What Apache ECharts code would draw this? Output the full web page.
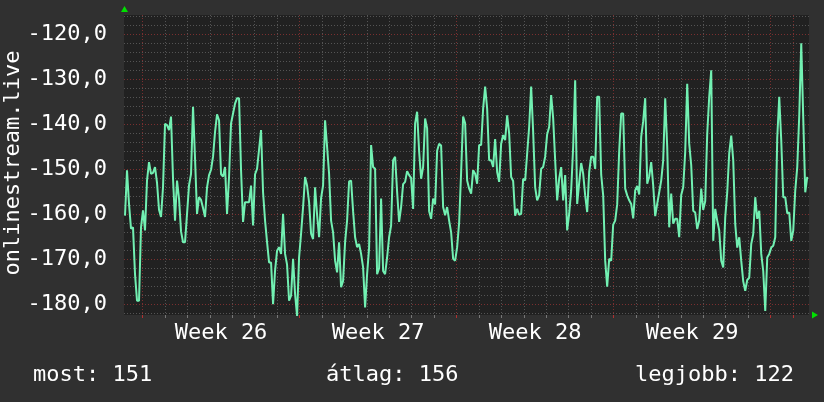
<!DOCTYPE html>
<html>
<head>
<meta charset="utf-8">
<script src="https://cdn.jsdelivr.net/npm/echarts@6/dist/echarts.min.js"></script>
<style>
  html, body { margin: 0; padding: 0; background: #303030; }
  #chart { width: 824px; height: 402px; }
</style>
</head>
<body>
<div id="chart"></div>
<script>
// jelszint (dBm), kb. 2 orankent, a 26. het elott kezdve
var startDay = -0.78;   // napokban a 26. het hetfojehez kepest
var stepDay = 0.0892;
var signal = [
  -160.3, -150.2, -157.7, -163.2, -162.9, -173.3, -179.2, -179.2, -162.9, -159.1, -163.6, -152.5, -148.4, -151, -150.8, -149.5,
  -153, -159, -160.6, -154, -139.9, -140.2, -141.3, -138.3, -152.1, -161.4, -152.5, -156.5, -163.8, -166.2, -166.2, -159.9,
  -153.6, -151, -136.1, -147.6, -159.9, -156.2, -156.8, -158.6, -160.6, -154, -151.3, -150.1, -147.2, -141.7, -137.8, -139.1,
  -151.1, -151.6, -149.5, -159.9, -151.7, -139.8, -137.6, -135.4,
  -134.2, -134.2, -150.2, -161.7, -157.3, -157.3, -157.3, -153.6, -162.5, -151.1, -149.9, -145.6, -141.3, -155.1, -161.4, -166.2,
  -170.7, -170.7, -180, -172.5, -168.1, -167.3, -168.8, -159.9, -168.8, -171.2, -179.2, -178.1, -169.9, -177.7, -182.6, -169.6,
  -164.3, -158.4, -151.7, -153.6, -157.3, -164.3, -165.5, -154, -160.1, -165.1, -156.4, -153.6, -139.1, -145, -151, -161.4,
  -164, -170.3, -172.9, -166.2, -176.2, -174.8, -166.2, -161.4,
  -152.7, -152.5, -159.3, -165.1, -167.3, -166.6, -168.8, -171.8, -180.7, -173.3, -167.5, -144.6, -149.5, -149.9, -173.3, -172,
  -156.5, -172.6, -173.3, -169.6, -165.1, -162.5, -148, -147.2, -155, -161.7, -158.4, -153.3, -152.8, -150.4, -151.3, -151.9,
  -158.8, -139.8, -137.2, -146, -152.1, -149.5, -138.7, -140.9, -159.3, -161, -156.5, -157.8, -145.9, -144.3, -144.7, -158.4,
  -160.2, -158.4, -161.4, -164, -169.9, -170.3, -167.3, -161.9, -150.6,
  -138.3, -139.8, -152.5, -154.3, -155.4, -150.2, -151, -153.2, -144.6, -144.6, -136.5, -131.6, -136.5, -148, -148, -149.5,
  -143.3, -150.6, -152.8, -144.3, -142.4, -143.5, -138, -142, -151.7, -152.6, -160.3, -158.8, -160.1, -159.9, -152.1, -152.5,
  -146.5, -140.6, -131.6, -141.7, -154, -156.9, -155.8, -149.9, -149.5, -147.2, -142.2, -140.6, -133.5, -138.7, -148, -156.9,
  -152.1, -149.5, -156.9, -151.3, -163.6, -159.9, -154.7, -145,
  -130.2, -157.7, -153, -148.6, -151, -155.8, -159.5, -150.6, -147.2, -147.2, -149.9, -133.9, -133.9, -151.2, -155.8, -170.3,
  -176.1, -169.9, -170.3, -162.3, -161.4, -157.8, -146, -137.6, -137.6, -154.3, -155.8, -156.9, -157.7, -160.9, -154.7, -153.7,
  -155.6, -142.8, -139.3, -134.2, -153.2, -151.6, -148.4, -153.6, -160.4, -157.7, -155.1, -152.5, -148, -134.2, -145, -162.9,
  -155.4, -162.1, -161, -161, -165.1, -155.7, -154, -146.1, -131,
  -144.3, -149.1, -159.2, -159.6, -163.3, -161.4, -154.3, -159, -157.1, -142.1, -133.9, -128, -165.9, -158.8, -161.4, -163.6,
  -170.3, -171.8, -160.7, -155.1, -146.4, -142.5, -148, -162.2, -167.4, -165.1, -170.3, -174.9, -177, -174.6, -174.1, -166.6,
  -164.4, -156.2, -161, -159.2, -168.8, -172.6, -181.5, -169.6, -168.8, -167.4, -167, -165.1, -143, -133.9, -143.6, -156.2,
  -156.2, -159.8, -159.6, -165.9, -163.6, -154.7, -149.5, -138, -122, -138.7, -155.1, -151.7
];
var weekLabels = ['Week 26', 'Week 27', 'Week 28', 'Week 29'];
var summaryLabels = ['most: 151', 'átlag: 156', 'legjobb: 122'];
var yTitle = 'onlinestream.live';

var FONT = 'DejaVu Sans Mono';
var minorColor = '#545454';
var majorColor = '#7a2f2f';

var myChart = echarts.init(document.getElementById('chart'));

var points = signal.map(function (v, i) { return [startDay + i * stepDay, v]; });

// 1 nap = 22.43 px
var option = {
    backgroundColor: '#303030',
    animation: false,
    grid: [
        // adat
        {left: 124, top: 15, width: 685, height: 300, show: true, backgroundColor: '#212121', borderWidth: 0},
        // fuggoleges racs (napok / hetek)
        {left: 142.5, top: 15, width: 650.5, height: 300},
        // vizszintes apro racs
        {left: 124, top: 16.3, width: 685, height: 297},
        // vizszintes fo racs + feliratok
        {left: 124, top: 34.3, width: 685, height: 270}
    ],
    xAxis: [
        {gridIndex: 0, type: 'value', min: -0.8248, max: 29.715, show: false},
        {
            gridIndex: 1, type: 'value', min: 0, max: 29, interval: 1, position: 'bottom',
            axisLine: {show: false},
            axisTick: {show: true, length: 3, lineStyle: {color: '#777'}},
            axisLabel: {show: false},
            splitLine: {show: true, lineStyle: {color: minorColor, type: [1, 2], width: 1}}
        },
        {
            gridIndex: 1, type: 'value', min: 0, max: 29, interval: 7, position: 'bottom',
            axisLine: {show: false},
            axisTick: {show: true, length: 3, lineStyle: {color: '#b03030'}},
            axisLabel: {show: false},
            splitLine: {show: true, lineStyle: {color: majorColor, type: [1, 2], width: 1}}
        },
        {
            gridIndex: 1, type: 'value', min: 0, max: 29, interval: 3.5, position: 'bottom',
            axisLine: {show: false}, axisTick: {show: false}, splitLine: {show: false},
            axisLabel: {
                show: true, margin: 7, color: '#ffffff', fontFamily: FONT, fontSize: 22,
                showMinLabel: true, showMaxLabel: true,
                formatter: function (v) {
                    var k = (v - 3.5) / 7;
                    if (Math.abs(k - Math.round(k)) < 1e-6 && weekLabels[Math.round(k)]) {
                        return weekLabels[Math.round(k)];
                    }
                    return '';
                }
            }
        },
        {gridIndex: 2, type: 'value', min: 0, max: 1, show: false},
        {gridIndex: 3, type: 'value', min: 0, max: 1, show: false}
    ],
    yAxis: [
        {gridIndex: 0, type: 'value', min: -182.38, max: -115.71, show: false},
        {gridIndex: 1, type: 'value', min: 0, max: 1, show: false},
        {
            gridIndex: 2, type: 'value', min: -182, max: -116, interval: 2,
            axisLine: {show: false}, axisTick: {show: false}, axisLabel: {show: false},
            splitLine: {show: true, lineStyle: {color: minorColor, type: [1, 2], width: 1}}
        },
        {
            gridIndex: 3, type: 'value', min: -180, max: -120, interval: 10,
            axisLine: {show: false}, axisTick: {show: false},
            axisLabel: {
                show: true, margin: 17, color: '#ffffff', fontFamily: FONT, fontSize: 22,
                formatter: function (v) { return v.toFixed(1).replace('.', ','); }
            },
            splitLine: {show: true, lineStyle: {color: majorColor, type: [1, 2], width: 1}}
        }
    ],
    graphic: [
        {
            type: 'text', x: 13, y: 163, rotation: Math.PI / 2,
            style: {text: yTitle, fill: '#ffffff', font: '22px "' + FONT + '"', align: 'center', verticalAlign: 'middle'}
        },
        {
            type: 'text', x: 33, y: 375,
            style: {text: summaryLabels[0], fill: '#ffffff', font: '22px "' + FONT + '"', align: 'left', verticalAlign: 'middle'}
        },
        {
            type: 'text', x: 326, y: 375,
            style: {text: summaryLabels[1], fill: '#ffffff', font: '22px "' + FONT + '"', align: 'left', verticalAlign: 'middle'}
        },
        {
            type: 'text', x: 794, y: 375,
            style: {text: summaryLabels[2], fill: '#ffffff', font: '22px "' + FONT + '"', align: 'right', verticalAlign: 'middle'}
        },
        // nyilak a tengelyek vegen
        {type: 'polygon', shape: {points: [[121, 12], [128, 12], [124.5, 6]]}, style: {fill: '#00e000'}},
        {type: 'polygon', shape: {points: [[812, 311.5], [812, 318.5], [818, 315]]}, style: {fill: '#00e000'}}
    ],
    series: [
        {
            name: yTitle,
            type: 'line',
            xAxisIndex: 0,
            yAxisIndex: 0,
            data: points,
            symbol: 'none',
            clip: false,
            z: 5,
            lineStyle: {color: '#72f0b2', width: 2}
        }
    ]
};

myChart.setOption(option);
</script>
</body>
</html>
